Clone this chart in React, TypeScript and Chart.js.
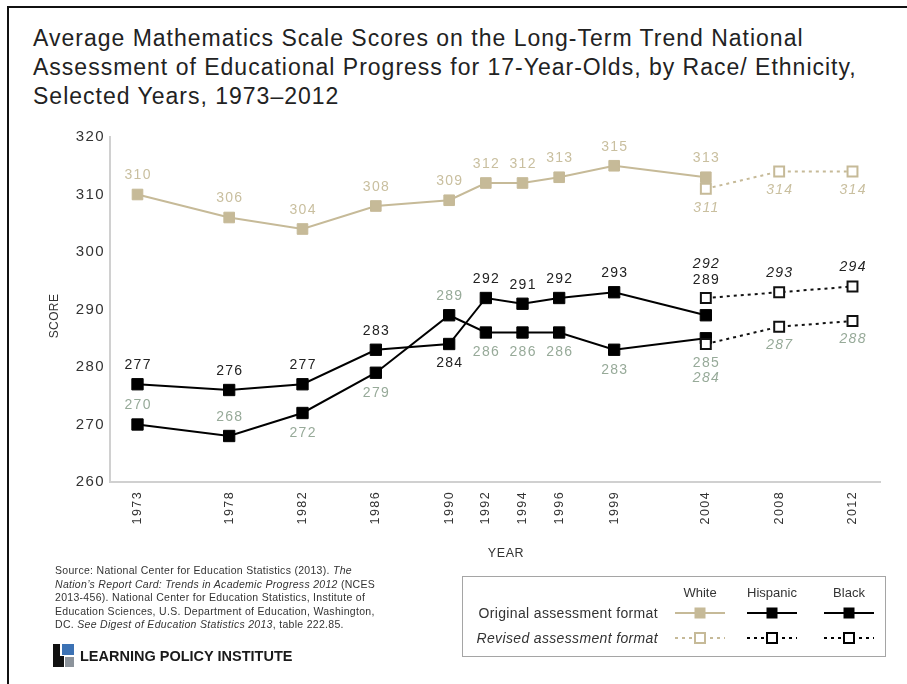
import React, { useEffect, useRef } from "react";
import { Chart, registerables } from "chart.js";

Chart.register(...registerables);

// ---------- data ----------
const originalYears = [1973, 1978, 1982, 1986, 1990, 1992, 1994, 1996, 1999, 2004];
const revisedYears = [2004, 2008, 2012];
const xTickYears = [1973, 1978, 1982, 1986, 1990, 1992, 1994, 1996, 1999, 2004, 2008, 2012];
const yTickValues = [260, 270, 280, 290, 300, 310, 320];

const whiteOriginal = [310, 306, 304, 308, 309, 312, 312, 313, 315, 313];
const whiteRevised = [311, 314, 314];
const hispanicOriginal = [277, 276, 277, 283, 284, 292, 291, 292, 293, 289];
const hispanicRevised = [292, 293, 294];
const blackOriginal = [270, 268, 272, 279, 289, 286, 286, 286, 283, 285];
const blackRevised = [284, 287, 288];

// ---------- label placement (pixel offsets from point, style only) ----------
const whiteOrigOffsets = [-19, -19, -19, -19, -19, -19, -19, -19, -19, -19];
const whiteRevOffsets = [19, 19, 19];
const hispOrigOffsets = [-19, -19, -19, -19, 19, -19, -19, -19, -19, -35];
const hispRevOffsets = [-34, -19, -19];
const blackOrigOffsets = [-19, -19, 20, 20, -19, 20, 20, 20, 20, 25];
const blackRevOffsets = [34, 18, 18];

const FONT = '"Liberation Sans", Arial, Helvetica, sans-serif';
const TAN = "#c6ba98";
const TAN_LABEL = "#c9bf9f";
const BLACK_LABEL = "#97aa99";
const DARK_LABEL = "#222222";

const toPoints = (xs: number[], ys: number[]) => xs.map((x, i) => ({ x, y: ys[i] }));

const spacing = {
  id: "spacing",
  beforeDraw(chart: any) {
    (chart.ctx as any).letterSpacing = "1.4px";
  },
};

const valueLabels = {
  id: "valueLabels",
  afterDatasetsDraw(chart: any) {
    const ctx = chart.ctx;
    chart.data.datasets.forEach((ds: any, i: number) => {
      const meta = chart.getDatasetMeta(i);
      meta.data.forEach((pt: any, j: number) => {
        const v = ds.data[j].y;
        ctx.save();
        (ctx as any).letterSpacing = "1.3px";
        ctx.font = `${ds.labelItalic ? "italic " : ""}14px ${FONT}`;
        ctx.fillStyle = ds.labelColor;
        ctx.textAlign = "center";
        ctx.textBaseline = "middle";
        ctx.fillText(String(v), pt.x + 0.65, pt.y + ds.labelOffsets[j]);
        ctx.restore();
      });
    });
  },
};

function LineChart() {
  const ref = useRef<HTMLCanvasElement | null>(null);
  useEffect(() => {
    if (!ref.current) return;
    const common = { tension: 0, borderWidth: 2, pointStyle: "rect" as const };
    const chart = new Chart(ref.current, {
      type: "line",
      data: {
        datasets: [
          {
            ...common,
            data: toPoints(revisedYears, whiteRevised),
            borderColor: TAN,
            borderDash: [3, 4],
            pointRadius: 7,
            pointBackgroundColor: "#ffffff",
            pointBorderColor: TAN,
            pointBorderWidth: 2,
            labelOffsets: whiteRevOffsets,
            labelColor: TAN_LABEL,
            labelItalic: true,
            order: 1,
          },
          {
            ...common,
            data: toPoints(originalYears, whiteOriginal),
            borderColor: TAN,
            pointRadius: 7.5,
            pointBackgroundColor: TAN,
            pointBorderColor: TAN,
            pointBorderWidth: 1,
            labelOffsets: whiteOrigOffsets,
            labelColor: TAN_LABEL,
            labelItalic: false,
            order: 2,
          },
          {
            ...common,
            data: toPoints(revisedYears, hispanicRevised),
            borderColor: "#111111",
            borderDash: [3, 4],
            pointRadius: 7,
            pointBackgroundColor: "#ffffff",
            pointBorderColor: "#111111",
            pointBorderWidth: 2,
            labelOffsets: hispRevOffsets,
            labelColor: DARK_LABEL,
            labelItalic: true,
            order: 3,
          },
          {
            ...common,
            data: toPoints(revisedYears, blackRevised),
            borderColor: "#111111",
            borderDash: [3, 4],
            pointRadius: 7,
            pointBackgroundColor: "#ffffff",
            pointBorderColor: "#111111",
            pointBorderWidth: 2,
            labelOffsets: blackRevOffsets,
            labelColor: BLACK_LABEL,
            labelItalic: true,
            order: 4,
          },
          {
            ...common,
            data: toPoints(originalYears, hispanicOriginal),
            borderColor: "#000000",
            pointRadius: 8,
            pointBackgroundColor: "#000000",
            pointBorderColor: "#000000",
            pointBorderWidth: 1,
            labelOffsets: hispOrigOffsets,
            labelColor: DARK_LABEL,
            labelItalic: false,
            order: 5,
          },
          {
            ...common,
            data: toPoints(originalYears, blackOriginal),
            borderColor: "#000000",
            pointRadius: 8,
            pointBackgroundColor: "#000000",
            pointBorderColor: "#000000",
            pointBorderWidth: 1,
            labelOffsets: blackOrigOffsets,
            labelColor: BLACK_LABEL,
            labelItalic: false,
            order: 6,
          },
        ] as any,
      },
      options: {
        animation: false,
        responsive: false,
        devicePixelRatio: 1,
        events: [],
        layout: { padding: { top: 137, right: 27, left: 0, bottom: 0 } },
        plugins: {
          legend: { display: false },
          tooltip: { enabled: false },
          title: { display: false },
        },
        scales: {
          x: {
            type: "linear",
            min: 1971.5,
            max: 2013.5,
            grid: { display: false, drawTicks: false },
            border: { display: true, color: "#d0d0d0", width: 2 },
            afterBuildTicks: (s: any) => {
              s.ticks = xTickYears.map((v) => ({ value: v }));
            },
            afterFit: (s: any) => {
              s.height = 202;
            },
            ticks: {
              autoSkip: false,
              maxRotation: 90,
              minRotation: 90,
              padding: 9,
              color: "#333333",
              font: { size: 12.5, family: FONT },
              callback: (v: any) => String(v),
            },
          },
          y: {
            type: "linear",
            min: 260,
            max: 320,
            grid: { display: false, drawTicks: false },
            border: { display: true, color: "#d0d0d0", width: 2 },
            afterBuildTicks: (s: any) => {
              s.ticks = yTickValues.map((v) => ({ value: v }));
            },
            afterFit: (s: any) => {
              s.width = 110;
            },
            ticks: {
              padding: 5,
              color: "#333333",
              font: { size: 15, family: FONT },
              callback: (v: any) => String(v),
            },
          },
        },
      },
      plugins: [spacing, valueLabels],
    });
    return () => chart.destroy();
  }, []);
  return (
    <canvas
      ref={ref}
      width={907}
      height={684}
      style={{ position: "absolute", left: 0, top: 0, width: 907, height: 684 }}
    />
  );
}

function LegendSample({ color, revised }: { color: string; revised: boolean }) {
  return (
    <svg width={52} height={14} style={{ display: "block" }}>
      <line
        x1={1}
        y1={7}
        x2={51}
        y2={7}
        stroke={color}
        strokeWidth={2}
        strokeDasharray={revised ? "3 4" : undefined}
      />
      {revised ? (
        <rect x={21} y={2} width={10} height={10} fill="#ffffff" stroke={color} strokeWidth={2} />
      ) : (
        <rect x={20.5} y={1.5} width={11} height={11} fill={color} />
      )}
    </svg>
  );
}

export default function App() {
  const abs = (s: React.CSSProperties): React.CSSProperties => ({ position: "absolute", ...s });
  const legendCols = [
    { name: "White", cx: 700, color: TAN },
    { name: "Hispanic", cx: 772, color: "#000000" },
    { name: "Black", cx: 849, color: "#000000" },
  ];
  return (
    <div
      style={{
        position: "absolute",
        left: 0,
        top: 0,
        width: 907,
        height: 684,
        overflow: "hidden",
        background: "#ffffff",
        fontFamily: FONT,
        color: "#222",
      }}
    >
      {/* frame */}
      <div style={abs({ left: 7, top: 6, width: 1000, height: 1000, borderTop: "2px solid #111", borderLeft: "2px solid #111" })} />

      {/* title */}
      <div
        style={abs({
          left: 33,
          top: 24,
          fontSize: 23,
          letterSpacing: "1px",
          lineHeight: "29px",
          color: "#222",
          whiteSpace: "nowrap",
        })}
      >
        Average Mathematics Scale Scores on the Long-Term Trend National
        <br />
        Assessment of Educational Progress for 17-Year-Olds, by Race/ Ethnicity,
        <br />
        Selected Years, 1973–2012
      </div>

      <LineChart />

      {/* axis titles */}
      <div
        style={abs({
          left: 54,
          top: 316,
          fontSize: 12,
          letterSpacing: "0.4px",
          color: "#333",
          transform: "translate(-50%, -50%) rotate(-90deg)",
          whiteSpace: "nowrap",
        })}
      >
        SCORE
      </div>
      <div
        style={abs({ left: 506, top: 553, fontSize: 12.5, letterSpacing: "0.6px", color: "#333", transform: "translate(-50%, -50%)" })}
      >
        YEAR
      </div>

      {/* source */}
      <div
        style={abs({
          left: 55,
          top: 564,
          fontSize: 10.5,
          letterSpacing: "0.3px",
          lineHeight: "13.5px",
          color: "#333",
          whiteSpace: "nowrap",
        })}
      >
        Source: National Center for Education Statistics (2013). <i>The</i>
        <br />
        <i>Nation’s Report Card: Trends in Academic Progress 2012</i> (NCES
        <br />
        2013-456). National Center for Education Statistics, Institute of
        <br />
        Education Sciences, U.S. Department of Education, Washington,
        <br />
        DC. <i>See Digest of Education Statistics 2013</i>, table 222.85.
      </div>

      {/* logo */}
      <div style={abs({ left: 53, top: 644, width: 7, height: 23, background: "#111" })} />
      <div style={abs({ left: 60, top: 656, width: 4, height: 11, background: "#111" })} />
      <div style={abs({ left: 62, top: 644, width: 12, height: 11, background: "#3c72b4" })} />
      <div style={abs({ left: 65, top: 657, width: 9, height: 10, background: "#8c939b" })} />
      <div
        style={abs({
          left: 80,
          top: 656,
          transform: "translateY(-50%)",
          fontSize: 14.5,
          fontWeight: 700,
          color: "#1a1a1a",
          whiteSpace: "nowrap",
        })}
      >
        LEARNING POLICY INSTITUTE
      </div>

      {/* legend */}
      <div style={abs({ left: 462, top: 576, width: 422, height: 79, border: "1.5px solid #a5a5a5" })} />
      {legendCols.map((c) => (
        <div
          key={c.name}
          style={abs({ left: c.cx, top: 592, fontSize: 13, color: "#333", transform: "translate(-50%, -50%)", whiteSpace: "nowrap" })}
        >
          {c.name}
        </div>
      ))}
      <div
        style={abs({
          right: 907 - 658,
          top: 613,
          fontSize: 14,
          letterSpacing: "0.35px",
          color: "#333",
          transform: "translateY(-50%)",
          whiteSpace: "nowrap",
        })}
      >
        Original assessment format
      </div>
      <div
        style={abs({
          right: 907 - 658,
          top: 638,
          fontSize: 14,
          letterSpacing: "0.35px",
          fontStyle: "italic",
          color: "#333",
          transform: "translateY(-50%)",
          whiteSpace: "nowrap",
        })}
      >
        Revised assessment format
      </div>
      {legendCols.map((c) => (
        <div key={c.name + "o"} style={abs({ left: c.cx - 26, top: 606 })}>
          <LegendSample color={c.color} revised={false} />
        </div>
      ))}
      {legendCols.map((c) => (
        <div key={c.name + "r"} style={abs({ left: c.cx - 26, top: 631 })}>
          <LegendSample color={c.color} revised={true} />
        </div>
      ))}
    </div>
  );
}
